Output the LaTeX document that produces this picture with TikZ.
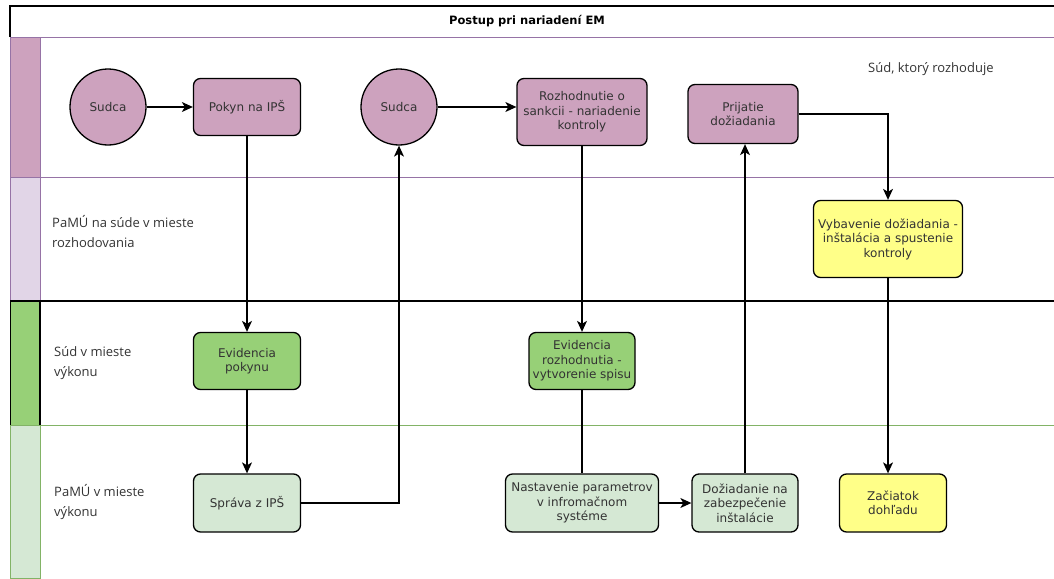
\documentclass[tikz,border=0pt]{standalone}
\usepackage{fontspec}
\setmainfont{DejaVu Sans}
\newfontfamily\lanefont{Open Sans}
\usetikzlibrary{arrows,shapes,arrows.meta}
\definecolor{purpleA}{HTML}{CDA2BE}
\definecolor{purpleB}{HTML}{E1D5E7}
\definecolor{purpleL}{HTML}{9673A6}
\definecolor{greenA}{HTML}{97D077}
\definecolor{greenB}{HTML}{D5E8D4}
\definecolor{greenL}{HTML}{82B366}
\definecolor{yellowA}{HTML}{FFFF88}
\definecolor{txt}{HTML}{333333}
\tikzstyle{actor}=[circle,draw=black,line width=1.3pt,fill=purpleA,minimum size=76pt,inner sep=0pt,text=txt,font=\fontsize{12}{14.5}\selectfont]
\tikzstyle{task}=[rectangle,rounded corners=7pt,draw=black,line width=1.3pt,align=center,inner sep=1pt,text=txt,font=\fontsize{12}{14.5}\selectfont]
\tikzstyle{court task}=[task,fill=purpleA]
\tikzstyle{exec task}=[task,fill=greenA]
\tikzstyle{office task}=[task,fill=greenB]
\tikzstyle{em task}=[task,fill=yellowA]
\tikzstyle{lane label}=[anchor=north west,align=left,inner sep=0pt,text=txt,font=\lanefont\fontsize{13}{20}\selectfont]
\tikzstyle{flow}=[draw,line width=1.2pt,-{Stealth[length=11pt,width=10pt,inset=3pt]}]
\tikzstyle{link}=[draw,line width=1.2pt,-]

\begin{document}
\begin{tikzpicture}[x=1pt,y=-1pt]
    \useasboundingbox (0,0) rectangle (1054,578);
    % Lanes: strips on the left first
    \foreach \top/\bot/\col/\edge in {37/177/purpleA/purpleL,177/301/purpleB/purpleL,301/425/greenA/black,425/578/greenB/greenL}
        \filldraw[fill=\col,draw=\edge,thick] (10,\top) rectangle (40,\bot);
    % title bar
    \draw[line width=1.2pt] (10,37) -- (10,6) -- (1054,6);
    \node[font=\bfseries\fontsize{11.5}{13}\selectfont] (title) at (527,21) {Postup pri nariadení EM};
    % lane borders
    \draw[purpleL,thick] (10,37) -- (1054,37);
    \draw[purpleL] (10,177) -- (1054,177);
    \draw[black,line width=1.2pt] (10,301) -- (1054,301);
    \draw[greenL] (10,425) -- (1054,425);
    \draw[black,line width=1.2pt] (40,301) -- (40,425);
    % lane names
    \node[lane label] (lane1) at (868,62) {Súd, ktorý rozhoduje};
    \node[lane label] (lane2) at (52,215) {PaMÚ na súde v mieste\\rozhodovania};
    \node[lane label] (lane3) at (54,346) {Súd v mieste\\výkonu};
    \node[lane label] (lane4) at (54,484) {PaMÚ v mieste\\výkonu};

    % First the vertices
    \node[actor] (S1) at (108,107) {Sudca};
    \node[actor] (S2) at (399,107) {Sudca};
    \node[court task,minimum width=107pt,minimum height=57pt] (Pokyn) at (247,107) {Pokyn na IPŠ};
    \node[court task,minimum width=130pt,minimum height=67pt] (Rozh) at (582,112) {Rozhodnutie o\\sankcii - nariadenie\\kontroly};
    \node[court task,minimum width=110pt,minimum height=59pt] (Prij) at (743,114) {Prijatie\\dožiadania};
    \node[em task,minimum width=149pt,minimum height=77pt] (Vyb) at (888,239) {Vybavenie dožiadania -\\inštalácia a spustenie\\kontroly};
    \node[exec task,minimum width=107pt,minimum height=57pt] (EvPok) at (247,361) {Evidencia\\pokynu};
    \node[exec task,minimum width=106pt,minimum height=57pt] (EvRoz) at (582,361) {Evidencia\\rozhodnutia -\\vytvorenie spisu};
    \node[office task,minimum width=107pt,minimum height=58pt] (Sprava) at (247,503) {Správa z IPŠ};
    \node[office task,minimum width=153pt,minimum height=58pt] (Nast) at (582,503) {Nastavenie parametrov\\v infromačnom\\systéme};
    \node[office task,minimum width=106pt,minimum height=58pt] (Doz) at (745,503) {Dožiadanie na\\zabezpečenie\\inštalácie};
    \node[em task,minimum width=107pt,minimum height=58pt] (Zac) at (893,503) {Začiatok\\dohľadu};

    % Connect vertices with edges
    \foreach \source/\dest in {S1/Pokyn,Nast/Doz}
        \path[flow] (\source) -- (\dest);
    \path[flow] (S2) -- (S2 -| Rozh.west);
    \foreach \source/\dest in {Pokyn/EvPok,EvPok/Sprava,Rozh/EvRoz}
        \path[flow] (\source) -- (\dest);
    \path[link] (EvRoz) -- (Nast);
    \path[flow] (Doz.north) -- (Doz.north |- Prij.south);
    \path[flow] (Sprava.east) -| (S2.south);
    \path[flow] (Prij.east) -| (Vyb.north);
    \path[flow] (Vyb.south) -- (Vyb.south |- Zac.north);
\end{tikzpicture}
\end{document}
